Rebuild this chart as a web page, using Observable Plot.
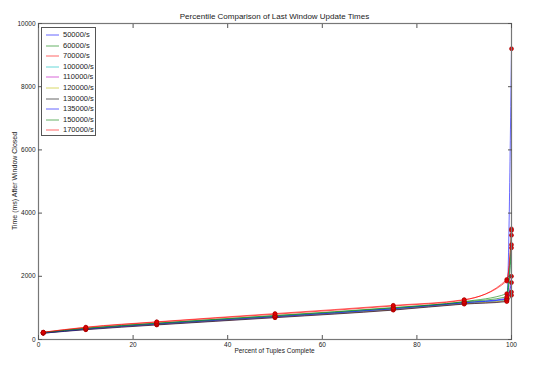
<!DOCTYPE html>
<html><head><meta charset="utf-8">
<script src="https://cdn.jsdelivr.net/npm/d3@7"></script>
<script src="https://cdn.jsdelivr.net/npm/@observablehq/plot@0.6"></script>
<style>
body{margin:0;background:#fff;}
#wrap{position:relative;width:540px;height:365px;font-family:"Liberation Sans",Arial,sans-serif;color:#222;}
#title{position:absolute;top:12px;left:38px;width:473px;text-align:center;font-size:8px;}
#xlabel{position:absolute;top:347px;left:38px;width:473px;text-align:center;font-size:6.5px;}
#ylabel{position:absolute;left:14px;top:181px;font-size:7px;white-space:nowrap;transform:translate(-50%,-50%) rotate(-90deg);}
#legend{position:absolute;left:41px;top:27px;width:55px;height:109px;border:1px solid #555;background:#fff;box-sizing:border-box;font-size:7.5px;}
#legend .row{position:absolute;left:0;height:10px;line-height:10px;white-space:nowrap;}
#legend svg{position:absolute;left:4px;top:0;}
#legend span{position:absolute;left:21px;top:0;}
</style>
</head><body>
<div id="wrap">
<div id="chart"></div>
<div id="title">Percentile Comparison of Last Window Update Times</div>
<div id="xlabel">Percent of Tuples Complete</div>
<div id="ylabel">Time (ms) After Window Closed</div>
<div id="legend"></div>
</div>
<script>
const percentiles = [1, 10, 25, 50, 75, 90, 99, 100];
const seriesNames = ["50000/s","60000/s","70000/s","100000/s","110000/s","120000/s","130000/s","135000/s","150000/s","170000/s"];
const seriesColors = ["#0000ff","#008000","#ff0000","#00bfbf","#bf00bf","#bfbf00","#000000","#0000ff","#008000","#ff0000"];
const xTicks = [0, 20, 40, 60, 80, 100];
const yTicks = [0, 2000, 4000, 6000, 8000, 10000];

const v50000  = [210, 340, 500, 730, 980, 1170, 1300, 9200];
const v60000  = [220, 360, 520, 760, 1010, 1200, 1450, 3500];
const v70000  = [230, 380, 550, 800, 1060, 1250, 1900, 3000];
const v100000 = [200, 330, 480, 720, 960, 1150, 1250, 3300];
const v110000 = [200, 320, 470, 700, 940, 1130, 1220, 2000];
const v120000 = [210, 330, 480, 710, 950, 1140, 1230, 1500];
const v130000 = [200, 310, 460, 690, 930, 1120, 1200, 1400];
const v135000 = [210, 330, 490, 720, 970, 1160, 1280, 1800];
const v150000 = [220, 350, 510, 750, 1000, 1190, 1350, 2900];
const v170000 = [230, 390, 560, 820, 1080, 1260, 1850, 3450];

const seriesValues = [v50000, v60000, v70000, v100000, v110000, v120000, v130000, v135000, v150000, v170000];
const rows = [];
seriesNames.forEach((name, i) => percentiles.forEach((p, j) => rows.push({name, p, v: seriesValues[i][j]})));

const blank = () => "";
const fmt = d3.format("d");
const plot = Plot.plot({
  width: 540, height: 365,
  marginLeft: 38, marginRight: 29, marginTop: 23, marginBottom: 26,
  style: {fontFamily: '"Liberation Sans", Arial, sans-serif', fontSize: "6.5px", color: "#222", background: "#fff"},
  x: {domain: [0, 100]},
  y: {domain: [0, 10000]},
  color: {domain: seriesNames, range: seriesColors},
  marks: [
    Plot.line(rows, {x: "p", y: "v", z: "name", stroke: "name", strokeWidth: 1, strokeOpacity: 0.6, curve: "monotone-x"}),
    Plot.dot(rows, {x: "p", y: "v", r: 2, fill: "#e00000", stroke: "#a00000", strokeWidth: 0.6}),
    Plot.frame({stroke: "#777", strokeWidth: 1.2}),
    Plot.axisX({ticks: xTicks, tickSize: 0, tickPadding: 3, tickFormat: fmt, label: null}),
    Plot.axisX({ticks: xTicks, tickSize: 4, dy: -4, tickFormat: blank, label: null, stroke: "#555"}),
    Plot.axisX({anchor: "top", ticks: xTicks, tickSize: 4, dy: 4, tickFormat: blank, label: null, stroke: "#555"}),
    Plot.axisY({ticks: yTicks, tickSize: 0, tickPadding: 3, tickFormat: fmt, label: null}),
    Plot.axisY({ticks: yTicks, tickSize: 4, dx: 4, tickFormat: blank, label: null, stroke: "#555"}),
    Plot.axisY({anchor: "right", ticks: yTicks, tickSize: 4, dx: -4, tickFormat: blank, label: null, stroke: "#555"})
  ]
});
document.getElementById("chart").appendChild(plot);

const legend = document.getElementById("legend");
seriesNames.forEach((name, i) => {
  const row = document.createElement("div");
  row.className = "row";
  row.style.top = (2 + i * 10.6) + "px";
  row.innerHTML = `<svg width="13" height="10"><line x1="0" x2="13" y1="5" y2="5" stroke="${seriesColors[i]}" stroke-opacity="0.6" stroke-width="1"/></svg><span>${name}</span>`;
  legend.appendChild(row);
});
</script>
</body></html>
